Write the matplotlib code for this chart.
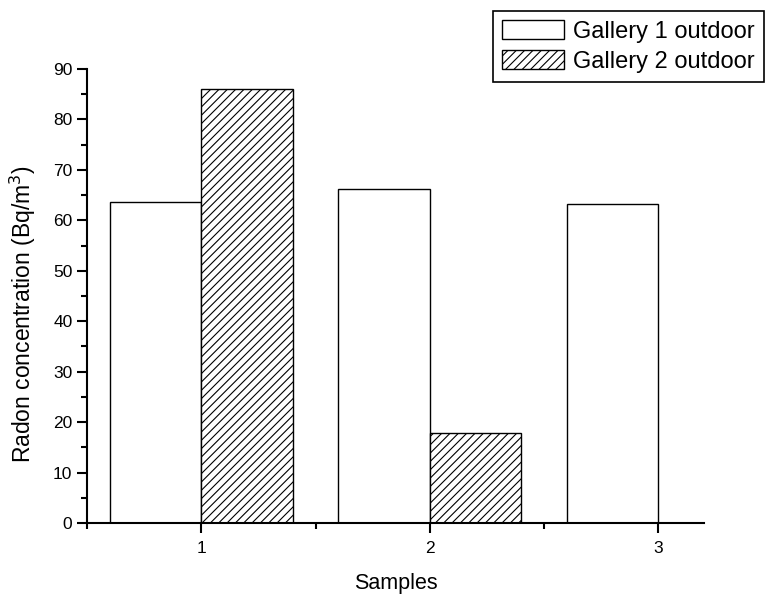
import matplotlib
matplotlib.use("Agg")
import matplotlib.pyplot as plt
import numpy as np

samples = [1, 2, 3]
gallery1 = [63.7, 66.2, 63.3]
gallery2 = [86.0, 17.8, 0.0]
labels = ["Gallery 1 outdoor", "Gallery 2 outdoor"]

plt.rcParams['font.family'] = ['Liberation Sans', 'DejaVu Sans']
plt.rcParams['hatch.linewidth'] = 0.8

fig = plt.figure(figsize=(7.67, 5.94), dpi=100)
ax = fig.add_axes([87/767, 1-523/594, (704-87)/767, (523-69)/594])

w = 0.4
x = np.array(samples, dtype=float)
ax.bar(x - w/2, gallery1, width=w, facecolor='white', edgecolor='black', linewidth=1.0, label=labels[0])
g2x = [xi + w/2 for xi, v in zip(x, gallery2) if v > 0]
g2v = [v for v in gallery2 if v > 0]
ax.bar(g2x, g2v, width=w, facecolor='white', edgecolor='black', linewidth=1.0, hatch='////', label=labels[1])

ax.set_xlim(0.5, 3.2)
ax.set_ylim(0, 90)
ax.set_xticks(samples)
ax.set_xticks([0.5, 1.5, 2.5], minor=True)
ax.set_yticks(np.arange(0, 91, 10))
ax.set_yticks(np.arange(5, 90, 10), minor=True)

for s in ['top', 'right']:
    ax.spines[s].set_visible(False)
for s in ['left', 'bottom']:
    ax.spines[s].set_linewidth(1.5)

ax.tick_params(axis='both', which='major', direction='out', length=7, width=1.5, labelsize=12.5)
ax.tick_params(axis='x', which='major', pad=6)
ax.tick_params(axis='both', which='minor', direction='out', length=4, width=1.5)

ax.set_xlabel("Samples", fontsize=15.5, labelpad=12)
ax.set_ylabel("Radon concentration (Bq/m$^3$)", fontsize=16.5)
ax.yaxis.set_label_coords(-0.08, 0.46)

leg = fig.legend(loc='upper left', bbox_to_anchor=(493/767, 1-11/594), bbox_transform=fig.transFigure,
                 fontsize=17, frameon=True, fancybox=False, edgecolor='black', framealpha=1,
                 handlelength=2.6, handleheight=0.85, handletextpad=0.4, borderpad=0.4, labelspacing=0.3,
                 borderaxespad=0)
leg.get_frame().set_linewidth(1.2)

fig.savefig("out.png", dpi=100)
